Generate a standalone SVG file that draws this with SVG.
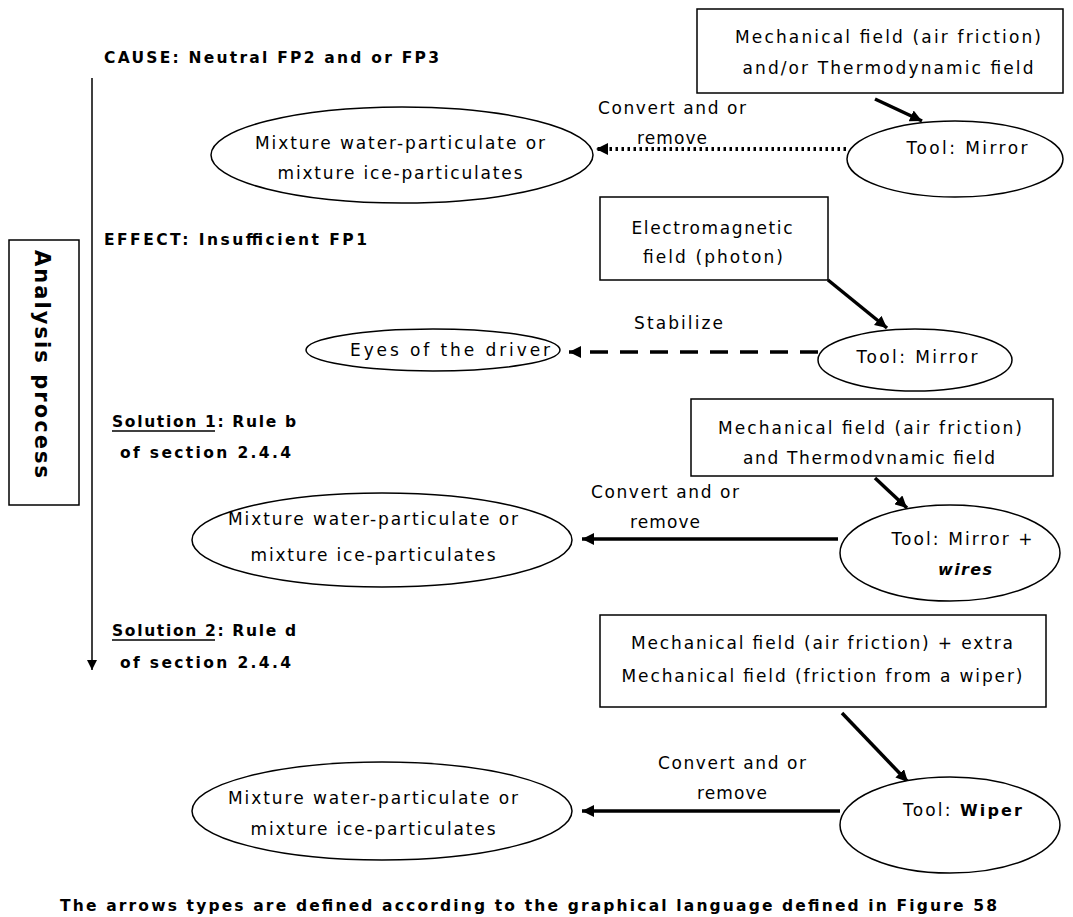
<svg xmlns="http://www.w3.org/2000/svg" width="1073" height="917" viewBox="0 0 1073 917">
<style>
.n{font-family:"DejaVu Sans",sans-serif;font-size:17px;fill:#000}
.b{font-family:"DejaVu Sans",sans-serif;font-size:15.5px;font-weight:bold;fill:#000}
.shape{fill:#fff;stroke:#000;stroke-width:1.5}
.thick{stroke:#000;stroke-width:3.5;fill:none}
.ul{stroke:#000;stroke-width:1.5}
</style>
<defs>
<marker id="ah" markerUnits="userSpaceOnUse" markerWidth="14" markerHeight="12" refX="12" refY="6" orient="auto">
<path d="M0,0 L12,6 L0,12 Z" fill="#000"/>
</marker>
<marker id="ahs" markerUnits="userSpaceOnUse" markerWidth="12" markerHeight="10" refX="10" refY="5" orient="auto">
<path d="M0,0 L10,5 L0,10 Z" fill="#000"/>
</marker>
</defs>
<rect width="1073" height="917" fill="#fff"/>

<g id="labels">
<text class="b" x="104" y="63" textLength="335" lengthAdjust="spacing">CAUSE: Neutral FP2 and or FP3</text>
<text class="b" x="104" y="245" textLength="263" lengthAdjust="spacing">EFFECT: Insufficient FP1</text>
<text class="b" x="112" y="427" textLength="184" lengthAdjust="spacing">Solution 1: Rule b</text>
<line class="ul" x1="112" y1="431" x2="215" y2="431"/>
<text class="b" x="120" y="458" textLength="171" lengthAdjust="spacing">of section 2.4.4</text>
<text class="b" x="112" y="636" textLength="184" lengthAdjust="spacing">Solution 2: Rule d</text>
<line class="ul" x1="112" y1="640" x2="215" y2="640"/>
<text class="b" x="120" y="668" textLength="171" lengthAdjust="spacing">of section 2.4.4</text>
<text class="b" x="60" y="911" textLength="937" lengthAdjust="spacing">The arrows types are defined according to the graphical language defined in Figure 58</text>
</g>

<g id="analysis">
<rect class="shape" x="9" y="240" width="70" height="265"/>
<text class="b" style="font-size:21px" x="0" y="0" text-anchor="middle" transform="translate(35,364) rotate(90)" textLength="228" lengthAdjust="spacing">Analysis process</text>
</g>

<g id="connectors">
<line x1="92" y1="78" x2="92" y2="670" stroke="#000" stroke-width="1.5" marker-end="url(#ahs)"/>
<line class="thick" x1="875" y1="99" x2="922" y2="121" marker-end="url(#ah)"/>
<line x1="846" y1="149" x2="596" y2="149" stroke="#000" stroke-width="4" stroke-dasharray="2.5,3.5" marker-end="url(#ah)"/>
<line class="thick" x1="828" y1="280" x2="887" y2="328" marker-end="url(#ah)"/>
<line x1="818" y1="352" x2="569" y2="352" stroke="#000" stroke-width="3.5" stroke-dasharray="18,12" marker-end="url(#ah)"/>
<line class="thick" x1="875" y1="478" x2="907" y2="508" marker-end="url(#ah)"/>
<line class="thick" x1="838" y1="539" x2="582" y2="539" marker-end="url(#ah)"/>
<line class="thick" x1="842" y1="713" x2="908" y2="782" marker-end="url(#ah)"/>
<line class="thick" x1="840" y1="811" x2="582" y2="811" marker-end="url(#ah)"/>
<text class="n" x="598" y="114" textLength="148" lengthAdjust="spacing">Convert and or</text>
<text class="n" x="637" y="144" textLength="70" lengthAdjust="spacing">remove</text>
<text class="n" x="634" y="329" textLength="89" lengthAdjust="spacing">Stabilize</text>
<text class="n" x="591" y="498" textLength="148" lengthAdjust="spacing">Convert and or</text>
<text class="n" x="630" y="528" textLength="70" lengthAdjust="spacing">remove</text>
<text class="n" x="658" y="769" textLength="148" lengthAdjust="spacing">Convert and or</text>
<text class="n" x="697" y="799" textLength="70" lengthAdjust="spacing">remove</text>
</g>

<g id="field1">
<rect class="shape" x="697" y="9" width="366" height="84"/>
<text class="n" x="888" y="43" text-anchor="middle" textLength="306" lengthAdjust="spacing">Mechanical field (air friction)</text>
<text class="n" x="888" y="74" text-anchor="middle" textLength="291" lengthAdjust="spacing">and/or Thermodynamic field</text>
</g>
<g id="tool1">
<ellipse class="shape" cx="955" cy="159" rx="108" ry="38"/>
<text class="n" x="967" y="154" text-anchor="middle" textLength="121" lengthAdjust="spacing">Tool: Mirror</text>
</g>
<g id="mix1">
<ellipse class="shape" cx="402" cy="155" rx="191" ry="48"/>
<text class="n" x="400" y="149" text-anchor="middle" textLength="290" lengthAdjust="spacing">Mixture water-particulate or</text>
<text class="n" x="400" y="179" text-anchor="middle" textLength="245" lengthAdjust="spacing">mixture ice-particulates</text>
</g>

<g id="field2">
<rect class="shape" x="600" y="197" width="228" height="83"/>
<text class="n" x="712" y="234" text-anchor="middle" textLength="161" lengthAdjust="spacing">Electromagnetic</text>
<text class="n" x="713" y="263" text-anchor="middle" textLength="140" lengthAdjust="spacing">field (photon)</text>
</g>
<g id="tool2">
<ellipse class="shape" cx="915" cy="360" rx="97" ry="31"/>
<text class="n" x="917" y="363" text-anchor="middle" textLength="121" lengthAdjust="spacing">Tool: Mirror</text>
</g>
<g id="eyes">
<ellipse class="shape" cx="433" cy="350" rx="127" ry="21"/>
<text class="n" x="450" y="356" text-anchor="middle" textLength="200" lengthAdjust="spacing">Eyes of the driver</text>
</g>

<g id="field3">
<rect class="shape" x="691" y="399" width="362" height="77"/>
<text class="n" x="870" y="434" text-anchor="middle" textLength="304" lengthAdjust="spacing">Mechanical field (air friction)</text>
<text class="n" x="869" y="464" text-anchor="middle" textLength="252" lengthAdjust="spacing">and Thermodvnamic field</text>
</g>
<g id="tool3">
<ellipse class="shape" cx="950" cy="553" rx="110" ry="48"/>
<text class="n" x="962" y="545" text-anchor="middle" textLength="141" lengthAdjust="spacing">Tool: Mirror +</text>
<text class="b" style="font-size:16px;font-style:italic" x="965" y="575" text-anchor="middle" textLength="54" lengthAdjust="spacing">wires</text>
</g>
<g id="mix2">
<ellipse class="shape" cx="382" cy="540" rx="190" ry="47"/>
<text class="n" x="373" y="525" text-anchor="middle" textLength="290" lengthAdjust="spacing">Mixture water-particulate or</text>
<text class="n" x="373" y="561" text-anchor="middle" textLength="245" lengthAdjust="spacing">mixture ice-particulates</text>
</g>

<g id="field4">
<rect class="shape" x="600" y="615" width="446" height="92"/>
<text class="n" x="822" y="649" text-anchor="middle" textLength="382" lengthAdjust="spacing">Mechanical field (air friction) + extra</text>
<text class="n" x="822" y="682" text-anchor="middle" textLength="401" lengthAdjust="spacing">Mechanical field (friction from a wiper)</text>
</g>
<g id="tool4">
<ellipse class="shape" cx="950" cy="825" rx="110" ry="48"/>
<text class="n" x="903" y="816" textLength="119" lengthAdjust="spacing">Tool: <tspan class="b" style="font-size:16px">Wiper</tspan></text>
</g>
<g id="mix3">
<ellipse class="shape" cx="382" cy="811" rx="190" ry="49"/>
<text class="n" x="373" y="804" text-anchor="middle" textLength="290" lengthAdjust="spacing">Mixture water-particulate or</text>
<text class="n" x="373" y="835" text-anchor="middle" textLength="245" lengthAdjust="spacing">mixture ice-particulates</text>
</g>
</svg>
